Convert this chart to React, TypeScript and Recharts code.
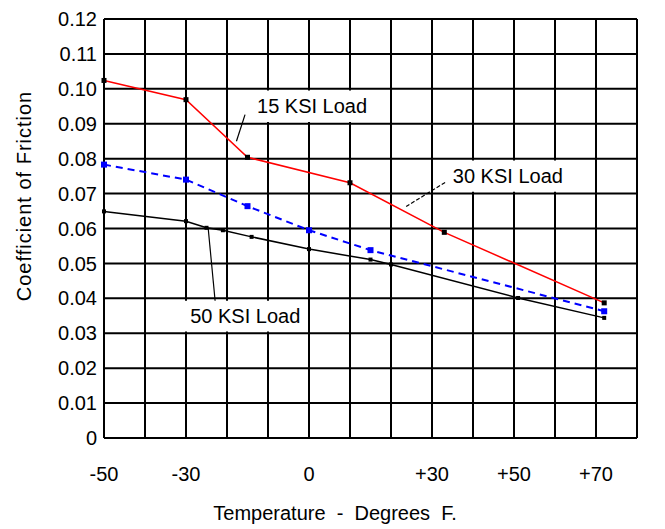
import { LineChart, Line, CartesianGrid, XAxis, YAxis, ReferenceArea, ReferenceLine } from "recharts";

// temperatures (deg F) and friction coefficients
const redTemps = [-50, -30, -15, 10, 33, 72];
const redCoef = [0.1024, 0.0969, 0.0804, 0.0731, 0.0589, 0.0387];
const blueTemps = [-50, -30, -15, 0, 15, 72];
const blueCoef = [0.0783, 0.074, 0.0664, 0.0595, 0.0538, 0.0363];
const blackTemps = [-50, -30, -25, -21, -14, 0, 15, 20, 51, 72];
const blackCoef = [0.0649, 0.0621, 0.0602, 0.0595, 0.0576, 0.0541, 0.0511, 0.0497, 0.0401, 0.0344];

const xGridTicks = [-50, -40, -30, -20, -10, 0, 10, 20, 30, 40, 50, 60, 70, 80];
const xLabelTicks = [-50, -30, 0, 30, 50, 70];
const xLabels = ["-50", "-30", "0", "+30", "+50", "+70"];
const yTicks = [0, 0.01, 0.02, 0.03, 0.04, 0.05, 0.06, 0.07, 0.08, 0.09, 0.1, 0.11, 0.12];

const redData = redTemps.map((t, i) => ({ t, c: redCoef[i] }));
const blueData = blueTemps.map((t, i) => ({ t, c: blueCoef[i] }));
const blackData = blackTemps.map((t, i) => ({ t, c: blackCoef[i] }));

const FONT = "Liberation Sans, Arial, sans-serif";
const nb = "\u00a0\u00a0";

const squareDot = (size: number, fill: string) => (props: any) => {
  const { cx, cy, index } = props;
  if (cx == null || cy == null) return <g key={index} />;
  return <rect key={index} x={cx - size / 2} y={cy - size / 2} width={size} height={size} fill={fill} />;
};

const boxLabel = (value: string) => ({ value, position: "center" as const, fill: "#000", fontSize: 20, fontFamily: FONT });

const App = () => {
  return (
    <div style={{ position: "absolute", left: 0, top: 0 }}>
      <LineChart width={665} height={529} margin={{ top: 19, right: 28, bottom: 0, left: 0 }}>
        <CartesianGrid stroke="#000" strokeWidth={2} />
        <XAxis
          type="number"
          dataKey="t"
          domain={[-50, 80]}
          ticks={xGridTicks}
          interval={0}
          tickFormatter={(v: number) => {
            const i = xLabelTicks.indexOf(v);
            return i >= 0 ? xLabels[i] : "";
          }}
          axisLine={false}
          tickLine={false}
          tickSize={0}
          tickMargin={29}
          height={91}
          tick={{ fill: "#000", fontSize: 20, fontFamily: FONT }}
          label={{
            content: () => (
              <text x={335} y={520} textAnchor="middle" fill="#000" fontSize={20} fontFamily={FONT}>
                {`Temperature${nb}-${nb}Degrees${nb}F.`}
              </text>
            ),
          }}
        />
        <YAxis
          type="number"
          domain={[0, 0.12]}
          ticks={yTicks}
          interval={0}
          tickFormatter={(v: number) => (v === 0 ? "0" : v.toFixed(2))}
          axisLine={false}
          tickLine={false}
          tickSize={0}
          tickMargin={7}
          width={104}
          tick={{ fill: "#000", fontSize: 20, fontFamily: FONT }}
          label={{
            content: () => (
              <text
                x={24}
                y={196}
                transform="rotate(-90 24 196)"
                textAnchor="middle"
                dominantBaseline="central"
                fill="#000"
                fontSize={20}
                letterSpacing={1}
                fontFamily={FONT}
              >
                Coefficient of Friction
              </text>
            ),
          }}
        />

        <ReferenceArea x1={-14.5} x2={16} y1={0.0905} y2={0.0995} fill="#fff" fillOpacity={1} stroke="none" label={boxLabel("15 KSI Load")} />
        <ReferenceArea x1={33} x2={64} y1={0.0705} y2={0.0795} fill="#fff" fillOpacity={1} stroke="none" label={boxLabel("30 KSI Load")} />
        <ReferenceArea x1={-30.5} x2={-0.6} y1={0.0305} y2={0.0393} fill="#fff" fillOpacity={1} stroke="none" label={boxLabel("50 KSI Load")} />

        <ReferenceLine segment={[{ x: -15.6, y: 0.0926 }, { x: -17.7, y: 0.085 }]} stroke="#000" strokeWidth={1.2} />
        <ReferenceLine segment={[{ x: 33.2, y: 0.0732 }, { x: 23.7, y: 0.0663 }]} stroke="#000" strokeWidth={1.2} strokeDasharray="4 2" />
        <ReferenceLine segment={[{ x: -24.6, y: 0.0602 }, { x: -22.9, y: 0.0393 }]} stroke="#000" strokeWidth={1.2} />

        <Line data={blackData} dataKey="c" type="linear" stroke="#000" strokeWidth={1.5} dot={squareDot(4, "#000")} isAnimationActive={false} />
        <Line data={blueData} dataKey="c" type="linear" stroke="#0000ff" strokeWidth={2} strokeDasharray="7 5" dot={squareDot(6, "#0000ff")} isAnimationActive={false} />
        <Line data={redData} dataKey="c" type="linear" stroke="#ff0000" strokeWidth={1.5} dot={squareDot(5, "#000")} isAnimationActive={false} />
      </LineChart>
    </div>
  );
};

export default App;
